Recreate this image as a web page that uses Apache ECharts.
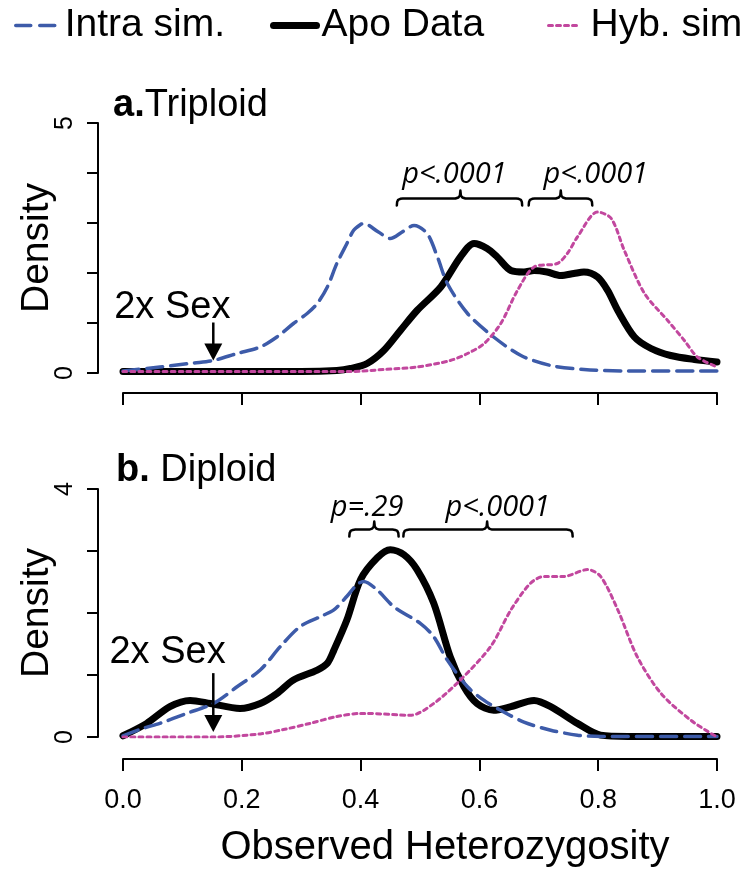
<!DOCTYPE html>
<html><head><meta charset="utf-8">
<script src="https://cdn.jsdelivr.net/npm/echarts@6/dist/echarts.min.js"></script>
<style>html,body{margin:0;padding:0;background:#fff}#c{width:749px;height:869px}</style>
</head><body><div id="c"></div>
<script>
// ---------------- data ----------------
const seriesNames = ['Intra sim.', 'Apo Data', 'Hyb. sim'];
const xTicks = [0, 0.2, 0.4, 0.6, 0.8, 1.0];
const yMaxTop = 5, yMaxBottom = 4;
const yLabelsTop = [0, 5];
const yLabelsBottom = [0, 4];
const panelLetters = ['a.', 'b.'];
const panelNames = ['Triploid', ' Diploid'];
const xTitle = 'Observed Heterozygosity';
const yTitle = 'Density';

// a. Triploid
const triIntraX = [0, 0.062, 0.119, 0.152, 0.192, 0.231, 0.259, 0.287, 0.31, 0.327, 0.344, 0.36, 0.377, 0.388, 0.40, 0.405, 0.43, 0.45, 0.47, 0.49, 0.512, 0.53, 0.546, 0.58, 0.624, 0.67, 0.72, 0.776, 0.85, 1.0];
const triIntraY = [0.04, 0.12, 0.2, 0.25, 0.39, 0.52, 0.72, 0.99, 1.19, 1.39, 1.72, 2.19, 2.59, 2.85, 2.97, 2.99, 2.82, 2.69, 2.82, 2.95, 2.79, 2.3, 1.79, 1.19, 0.72, 0.35, 0.15, 0.07, 0.04, 0.04];
const triApoX = [0, 0.1, 0.2, 0.3, 0.36, 0.383, 0.411, 0.439, 0.467, 0.495, 0.535, 0.568, 0.591, 0.613, 0.63, 0.653, 0.675, 0.692, 0.714, 0.737, 0.759, 0.776, 0.799, 0.816, 0.833, 0.861, 0.889, 0.922, 0.962, 1.0];
const triApoY = [0.03, 0.03, 0.03, 0.03, 0.05, 0.09, 0.19, 0.45, 0.85, 1.25, 1.72, 2.32, 2.59, 2.49, 2.32, 2.05, 2.02, 2.05, 2.02, 1.95, 1.99, 2.02, 1.92, 1.65, 1.25, 0.72, 0.49, 0.35, 0.27, 0.22];
const triHybX = [0, 0.1, 0.2, 0.3, 0.383, 0.439, 0.495, 0.551, 0.58, 0.608, 0.636, 0.664, 0.692, 0.731, 0.748, 0.765, 0.799, 0.822, 0.844, 0.878, 0.917, 0.945, 0.967, 1.0];
const triHybY = [0.03, 0.03, 0.03, 0.03, 0.03, 0.07, 0.12, 0.25, 0.39, 0.59, 0.99, 1.65, 2.12, 2.19, 2.39, 2.72, 3.22, 3.09, 2.45, 1.59, 1.05, 0.65, 0.32, 0.12];

// b. Diploid
const dipIntraX = [0, 0.034, 0.062, 0.107, 0.152, 0.192, 0.231, 0.265, 0.298, 0.332, 0.355, 0.377, 0.393, 0.405, 0.428, 0.456, 0.501, 0.523, 0.546, 0.58, 0.608, 0.636, 0.675, 0.72, 0.765, 0.804, 1.0];
const dipIntraY = [0.02, 0.14, 0.22, 0.38, 0.54, 0.81, 1.08, 1.46, 1.78, 1.94, 2.05, 2.27, 2.45, 2.51, 2.37, 2.10, 1.83, 1.62, 1.24, 0.81, 0.59, 0.43, 0.24, 0.11, 0.03, 0.01, 0.01];
const dipApoX = [0, 0.04, 0.079, 0.113, 0.147, 0.197, 0.231, 0.259, 0.287, 0.327, 0.344, 0.355, 0.377, 0.40, 0.428, 0.45, 0.473, 0.495, 0.523, 0.551, 0.574, 0.596, 0.624, 0.653, 0.692, 0.72, 0.765, 0.804, 0.85, 1.0];
const dipApoY = [0.02, 0.22, 0.49, 0.59, 0.54, 0.46, 0.54, 0.70, 0.92, 1.08, 1.19, 1.40, 1.89, 2.54, 2.89, 3.02, 2.94, 2.70, 2.16, 1.29, 0.81, 0.54, 0.43, 0.49, 0.59, 0.49, 0.22, 0.03, 0.01, 0.01];
const dipHybX = [0, 0.08, 0.152, 0.231, 0.27, 0.315, 0.36, 0.40, 0.411, 0.484, 0.523, 0.568, 0.619, 0.653, 0.686, 0.709, 0.742, 0.782, 0.804, 0.833, 0.866, 0.906, 0.956, 1.0];
const dipHybY = [0, 0, 0, 0.05, 0.12, 0.22, 0.33, 0.38, 0.38, 0.35, 0.54, 0.92, 1.46, 2.05, 2.48, 2.59, 2.59, 2.70, 2.59, 2.05, 1.29, 0.70, 0.27, 0.0];

// annotations (data coordinates)
const sexLabel = '2x Sex';
const sexArrowX = 0.152;
const sexTop = { textX: 0.083, textY: 1.31, from: 1.01, to: 0.25 };
const sexBottom = { textX: 0.075, textY: 1.37, from: 1.03, to: 0.08 };
const bracketsTop = [
  { x1: 0.461, x2: 0.672, xm: 0.568, y: 3.49, label: 'p<.0001', lx: 0.558, ly: 3.97 },
  { x1: 0.683, x2: 0.79, xm: 0.737, y: 3.49, label: 'p<.0001', lx: 0.796, ly: 3.97 }
];
const bracketsBottom = [
  { x1: 0.381, x2: 0.464, xm: 0.423, y: 3.345, label: 'p=.29', lx: 0.411, ly: 3.69 },
  { x1: 0.472, x2: 0.757, xm: 0.613, y: 3.345, label: 'p<.0001', lx: 0.631, ly: 3.70 }
];

// ---------------- chart ----------------
const FONT = '"Liberation Sans", Arial, Helvetica, sans-serif';
const ITAL = '"Open Sans", "Liberation Sans", sans-serif';
const C_INTRA = '#3D5BA9', C_APO = '#000000', C_HYB = '#C2479E';
const DASH_INTRA = [16, 8], DASH_HYB = [4, 4];
const chart = echarts.init(document.getElementById('c'));
const pairs = (xs, ys) => xs.map((x, i) => [x, ys[i]]);

function line(name, xs, ys, idx, color, width, type, z) {
  return {
    type: 'line', name, xAxisIndex: idx, yAxisIndex: idx, data: pairs(xs, ys),
    symbol: 'none', showSymbol: false, smooth: 0.3, z,
    lineStyle: { color, width, type, cap: 'round', join: 'round' },
    itemStyle: { color }
  };
}

function xAxisCfg(idx, offset, labels) {
  return {
    gridIndex: idx, type: 'value', min: 0, max: 1, interval: 0.2, offset,
    axisLine: { show: true, onZero: false, lineStyle: { color: '#000', width: 2 } },
    axisTick: { show: true, length: 12, lineStyle: { color: '#000', width: 2 } },
    splitLine: { show: false },
    axisLabel: labels ? { show: true, fontFamily: FONT, fontSize: 27, color: '#000', margin: 28, formatter: v => v.toFixed(1) } : { show: false },
    name: labels ? xTitle : '', nameLocation: 'middle', nameGap: 69,
    nameTextStyle: { fontFamily: FONT, fontSize: 40, color: '#000', padding: [0, 0, 0, 50] }
  };
}
function yAxisCfg(idx, max) {
  return {
    gridIndex: idx, type: 'value', min: 0, max, interval: 1, offset: 25,
    axisLine: { show: true, onZero: false, lineStyle: { color: '#000', width: 2 } },
    axisTick: { show: true, length: 11, lineStyle: { color: '#000', width: 2 } },
    splitLine: { show: false },
    axisLabel: { show: false },
    name: yTitle, nameLocation: 'middle', nameRotate: 90, nameGap: 41,
    nameTextStyle: { fontFamily: FONT, fontSize: 39, color: '#000' }
  };
}
function legendCfg(name, left, iw, pad, lw, dash) {
  return {
    data: [name], left, top: 1, itemWidth: iw, itemHeight: 14, selectedMode: false,
    itemStyle: { opacity: 0 },
    lineStyle: { width: lw, type: dash },
    textStyle: { fontFamily: FONT, fontSize: 39, color: '#000', padding: [0, 0, 0, pad] }
  };
}

const option = {
  animation: false,
  backgroundColor: '#fff',
  legend: [
    legendCfg(seriesNames[0], 9, 39, 5, 3.5, [15, 9]),
    legendCfg(seriesNames[1], 265, 43, 0, 7, 'solid'),
    legendCfg(seriesNames[2], 542, 30, 7, 3, DASH_HYB)
  ],
  grid: [
    { left: 123, top: 123, width: 594, height: 250, outerBoundsMode: 'none', containLabel: false },
    { left: 123, top: 489, width: 594, height: 248, outerBoundsMode: 'none', containLabel: false }
  ],
  xAxis: [xAxisCfg(0, 20, false), xAxisCfg(1, 22, true)],
  yAxis: [yAxisCfg(0, yMaxTop), yAxisCfg(1, yMaxBottom)],
  series: [
    line(seriesNames[1], triApoX, triApoY, 0, C_APO, 7, 'solid', 2),
    line(seriesNames[0], triIntraX, triIntraY, 0, C_INTRA, 3.5, DASH_INTRA, 3),
    line(seriesNames[2], triHybX, triHybY, 0, C_HYB, 3, DASH_HYB, 4),
    line(seriesNames[1], dipApoX, dipApoY, 1, C_APO, 7, 'solid', 2),
    line(seriesNames[0], dipIntraX, dipIntraY, 1, C_INTRA, 3.5, DASH_INTRA, 3),
    line(seriesNames[2], dipHybX, dipHybY, 1, C_HYB, 3, DASH_HYB, 4)
  ]
};
chart.setOption(option);

// ---------------- annotations via library scales ----------------
const px = (g, x, y) => chart.convertToPixel({ gridIndex: g }, [x, y]);
const gfx = [];
// rotated y tick labels (R style, las=0)
[[0, yLabelsTop], [1, yLabelsBottom]].forEach(([g, labs]) => {
  labs.forEach(v => {
    const p = px(g, 0, v);
    gfx.push({ type: 'text', x: p[0] - 58, y: p[1], rotation: Math.PI / 2, z: 10,
      style: { text: String(v), fontFamily: FONT, fontSize: 25, fill: '#000', align: 'center', verticalAlign: 'middle' } });
  });
});
// panel titles
[[113, 106], [116, 471]].forEach((p, i) => {
  gfx.push({ type: 'text', x: p[0], y: p[1], z: 10, style: {
    text: '{b|' + panelLetters[i] + '}{r|' + panelNames[i] + '}',
    verticalAlign: 'middle', align: 'left',
    rich: { b: { fontFamily: FONT, fontSize: 38, fontWeight: 'bold', fill: '#000' },
            r: { fontFamily: FONT, fontSize: 38, fill: '#000' } } } });
});
// 2x Sex labels and arrows
[[0, sexTop], [1, sexBottom]].forEach(([g, s]) => {
  const t = px(g, s.textX, s.textY);
  gfx.push({ type: 'text', x: t[0], y: t[1], z: 10, style: { text: sexLabel, fontFamily: FONT, fontSize: 38, fill: '#000', align: 'center', verticalAlign: 'middle' } });
  const a = px(g, sexArrowX, s.from), b = px(g, sexArrowX, s.to);
  gfx.push({ type: 'line', z: 10, shape: { x1: a[0], y1: a[1], x2: b[0], y2: b[1] - 10 }, style: { stroke: '#000', lineWidth: 2.5 } });
  gfx.push({ type: 'polygon', z: 10, shape: { points: [[b[0] - 9, b[1] - 17], [b[0] + 9, b[1] - 17], [b[0], b[1]]] }, style: { fill: '#000' } });
});
// brackets with p-values
[[0, bracketsTop], [1, bracketsBottom]].forEach(([g, list]) => {
  list.forEach(br => {
    const L = px(g, br.x1, br.y)[0], R = px(g, br.x2, br.y)[0], M = px(g, br.xm, br.y)[0];
    const y = px(g, br.x1, br.y)[1];
    const pts = [
      [L, y + 7], [L + 0.3, y + 3.5], [L + 1.3, y + 1.3], [L + 3.5, y + 0.3], [L + 6, y],
      [M - 5, y], [M - 2, y - 1], [M - 0.5, y - 3], [M, y - 8],
      [M + 0.5, y - 3], [M + 2, y - 1], [M + 5, y],
      [R - 6, y], [R - 3.5, y + 0.3], [R - 1.3, y + 1.3], [R - 0.3, y + 3.5], [R, y + 7]
    ];
    gfx.push({ type: 'polyline', z: 10, shape: { points: pts }, style: { stroke: '#000', lineWidth: 2.5, fill: null, lineCap: 'round', lineJoin: 'round' } });
    const t = px(g, br.lx, br.ly);
    gfx.push({ type: 'text', x: t[0], y: t[1], z: 10, style: { text: br.label, fontFamily: ITAL, fontStyle: 'italic', fontSize: 29, fill: '#000', align: 'center', verticalAlign: 'middle' } });
  });
});
chart.setOption({ graphic: gfx });
</script>
</body></html>
